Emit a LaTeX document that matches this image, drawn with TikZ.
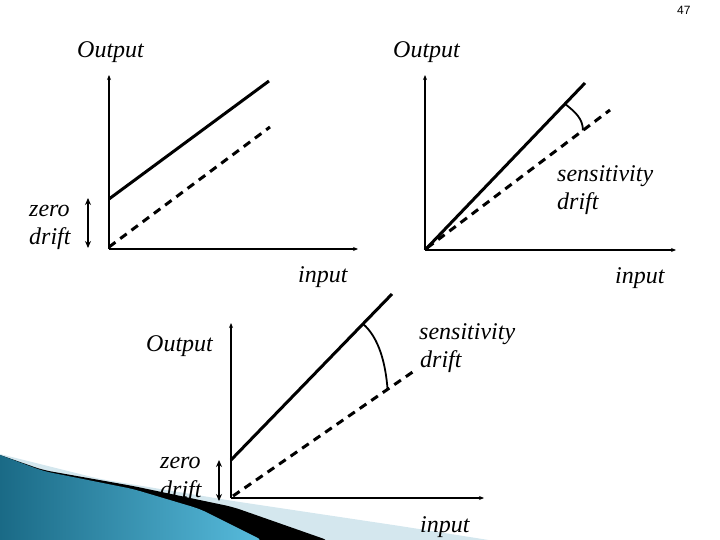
\documentclass[tikz,border=0pt]{standalone}
\usepackage{fontspec}
\setmainfont{Liberation Serif}[ItalicFont={Liberation Serif Italic}]
\newfontfamily\lblfont{Liberation Serif Italic}
\newfontfamily\numfont{Liberation Sans}
\usetikzlibrary{arrows.meta,calc}
\definecolor{bandlight}{HTML}{D4E7EE}
\definecolor{tealdark}{HTML}{1A6A86}
\definecolor{teallight}{HTML}{58BCDD}
\begin{document}
\begin{tikzpicture}[x=1pt,y=-1pt,
  lbl/.style={font=\lblfont\fontsize{24}{28}\selectfont, inner sep=0pt, anchor=base west},
  axisln/.style={line width=2pt, -{Stealth[length=5pt,width=4pt]}},
  solidln/.style={line width=3pt},
  dashln/.style={line width=3pt, dash pattern=on 8pt off 6pt},
  driftarrow/.style={line width=1.5pt, {Stealth[length=7pt,width=6pt]}-{Stealth[length=7pt,width=6pt]}},
  arcln/.style={line width=1.8pt}]
\useasboundingbox (0,0) rectangle (720,540);

% decorative corner
\fill[bandlight, rounded corners=8pt] (0,454) -- (100,479) -- (233,501) -- (400,526) -- (495,541) [sharp corners] -- (0,541) -- cycle;
\fill[black, rounded corners=8pt] (0,455) -- (43,470) -- (133,486) -- (233,507) -- (330,541) [sharp corners] -- (0,541) -- cycle;
\shade[left color=tealdark, right color=teallight, rounded corners=8pt] (0,455) -- (43,471) -- (133,489) -- (200,509) -- (264,541) [sharp corners] -- (0,541) -- cycle;

% page number
\node[font=\numfont\fontsize{12}{14}\selectfont, anchor=base west, inner sep=0pt] (pg) at (677,15) {47};

% ---------- top-left graph ----------
\coordinate (O1) at (109,249);
\coordinate (Y1) at (109,75);
\coordinate (X1) at (358,249);
\coordinate (S1a) at (109,199);
\coordinate (S1b) at (269,81);
\coordinate (D1a) at (109,247);
\coordinate (D1b) at (270,127);
\coordinate (Z1t) at (88,198);
\coordinate (Z1b) at (88,248);
\draw[axisln] (O1) -- (Y1);
\draw[axisln] (O1) -- (X1);
\draw[solidln] (S1a) -- (S1b);
\draw[dashln] (D1a) -- (D1b);
\draw[driftarrow] (Z1t) -- (Z1b);
\node[lbl] (out1) at (77,58) {Output};
\node[lbl] (zero1) at (29,217) {zero};
\node[lbl] (drift1) at (29,244) {drift};
\node[lbl] (in1) at (298,282) {input};

% ---------- top-right graph ----------
\coordinate (O2) at (425,250);
\coordinate (Y2) at (425,75);
\coordinate (X2) at (676,250);
\coordinate (S2b) at (585,83);
\coordinate (D2a) at (427,248);
\coordinate (D2b) at (610,110);
\draw[axisln] (O2) -- (Y2);
\draw[axisln] (O2) -- (X2);
\draw[solidln] (O2) -- (S2b);
\draw[dashln] (D2a) -- (D2b);
\coordinate (A2s) at ($(O2)!0.875!(S2b)$);
\coordinate (A2e) at ($(D2a)!0.852!(D2b)$);
\draw[arcln] (A2s) .. controls ($(A2s)+(10,8)$) and ($(A2e)+(0,-12)$) .. (A2e);
\node[lbl] (out2) at (393,58) {Output};
\node[lbl] (sens2) at (557,182) {sensitivity};
\node[lbl] (drift2) at (557,210) {drift};
\node[lbl] (in2) at (615,283) {input};

% ---------- bottom graph ----------
\coordinate (O3) at (231,498);
\coordinate (Y3) at (231,323);
\coordinate (X3) at (484,498);
\coordinate (S3a) at (231,460);
\coordinate (S3b) at (392,294);
\coordinate (D3a) at (233,496);
\coordinate (D3b) at (417,369);
\coordinate (Z3t) at (219,460);
\coordinate (Z3b) at (219,501);
\draw[axisln] (O3) -- (Y3);
\draw[axisln] (O3) -- (X3);
\draw[solidln] (S3a) -- (S3b);
\draw[dashln] (D3a) -- (D3b);
\draw[driftarrow] (Z3t) -- (Z3b);
\coordinate (A3s) at ($(S3a)!0.82!(S3b)$);
\coordinate (A3e) at ($(D3a)!0.84!(D3b)$);
\draw[arcln] (A3s) .. controls ($(A3s)+(16,14)$) and ($(A3e)+(-2,-26)$) .. (A3e);
\node[lbl] (out3) at (146,351) {Output};
\node[lbl] (zero3) at (160,468) {zero};
\node[lbl] (drift3) at (160,497) {drift};
\node[lbl] (sens3) at (419,339) {sensitivity};
\node[lbl] (drift3b) at (420,367) {drift};
\node[lbl] (in3) at (420,532) {input};
\end{tikzpicture}
\end{document}
